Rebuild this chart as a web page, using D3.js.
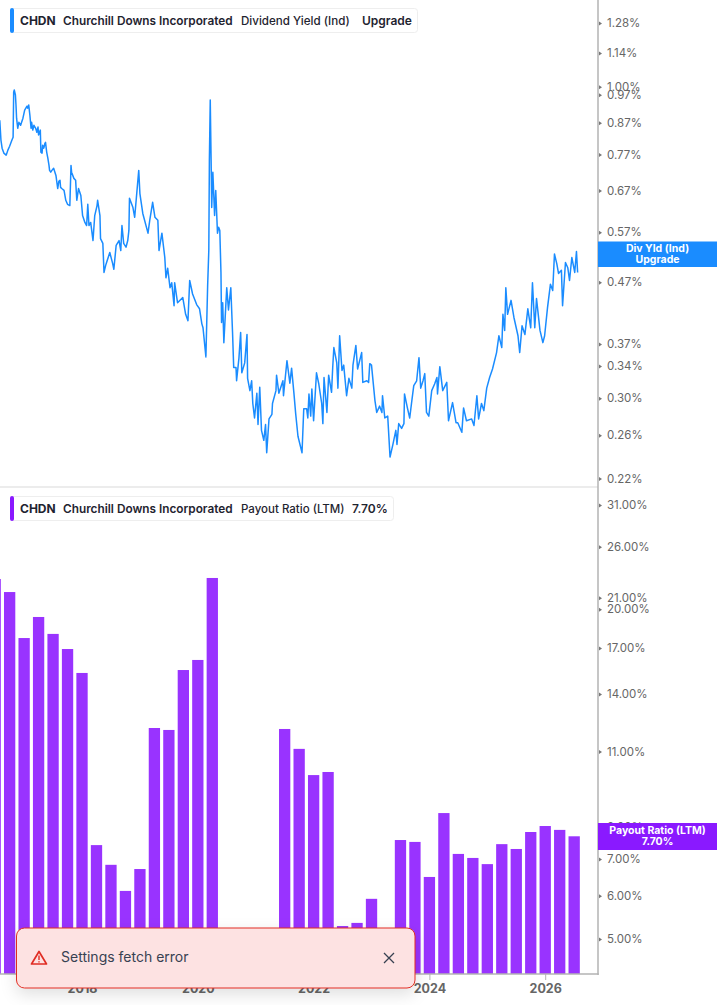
<!DOCTYPE html>
<html><head><meta charset="utf-8">
<script src="https://cdn.jsdelivr.net/npm/d3@7"></script>
<style>
html,body{margin:0;padding:0;background:#fff;overflow:hidden}
svg{display:block;font-family:Inter,"Noto Sans",sans-serif}
</style></head><body><div id="chart"></div>
<script>
// Dividend yield (%), x in decimal years
const yieldYears=[2016.58,2016.60,2016.62,2016.65,2016.69,2016.72,2016.75,2016.79,2016.81,2016.82,2016.83,2016.85,2016.86,2016.87,2016.89,2016.91,2016.94,2016.98,2017.01,2017.05,2017.06,2017.08,2017.10,2017.12,2017.13,2017.15,2017.17,2017.20,2017.22,2017.24,2017.25,2017.28,2017.29,2017.31,2017.32,2017.34,2017.36,2017.37,2017.39,2017.41,2017.43,2017.44,2017.46,2017.48,2017.51,2017.55,2017.58,2017.60,2017.62,2017.63,2017.65,2017.69,2017.72,2017.75,2017.79,2017.81,2017.82,2017.86,2017.89,2017.91,2017.94,2017.98,2018.01,2018.05,2018.08,2018.10,2018.12,2018.15,2018.19,2018.22,2018.26,2018.27,2018.31,2018.32,2018.36,2018.38,2018.41,2018.43,2018.48,2018.53,2018.55,2018.59,2018.64,2018.67,2018.69,2018.72,2018.76,2018.79,2018.81,2018.82,2018.88,2018.91,2018.98,2019.00,2019.05,2019.14,2019.17,2019.22,2019.26,2019.31,2019.33,2019.38,2019.43,2019.45,2019.48,2019.52,2019.55,2019.59,2019.60,2019.65,2019.74,2019.79,2019.83,2019.86,2019.91,2019.98,2020.03,2020.07,2020.09,2020.14,2020.17,2020.19,2020.20,2020.215,2020.23,2020.24,2020.26,2020.29,2020.31,2020.34,2020.36,2020.38,2020.40,2020.41,2020.43,2020.45,2020.48,2020.50,2020.53,2020.57,2020.60,2020.62,2020.66,2020.67,2020.71,2020.74,2020.76,2020.81,2020.85,2020.86,2020.90,2020.93,2020.95,2020.98,2021.02,2021.04,2021.07,2021.10,2021.14,2021.17,2021.19,2021.23,2021.28,2021.29,2021.35,2021.36,2021.40,2021.47,2021.48,2021.54,2021.59,2021.62,2021.66,2021.69,2021.73,2021.80,2021.83,2021.88,2021.90,2021.92,2021.95,2021.97,2022.00,2022.05,2022.09,2022.14,2022.16,2022.18,2022.23,2022.26,2022.31,2022.33,2022.35,2022.40,2022.42,2022.45,2022.49,2022.52,2022.57,2022.61,2022.66,2022.68,2022.73,2022.76,2022.83,2022.85,2022.92,2022.95,2022.97,2023.00,2023.06,2023.09,2023.14,2023.18,2023.19,2023.23,2023.28,2023.32,2023.37,2023.42,2023.44,2023.47,2023.52,2023.56,2023.57,2023.62,2023.66,2023.70,2023.73,2023.78,2023.82,2023.85,2023.89,2023.92,2023.95,2023.99,2024.04,2024.09,2024.13,2024.14,2024.18,2024.23,2024.30,2024.33,2024.40,2024.46,2024.49,2024.56,2024.59,2024.64,2024.73,2024.77,2024.82,2024.85,2024.90,2024.94,2024.99,2025.04,2025.09,2025.16,2025.20,2025.25,2025.27,2025.30,2025.32,2025.35,2025.41,2025.46,2025.53,2025.56,2025.60,2025.65,2025.70,2025.75,2025.78,2025.82,2025.85,2025.91,2025.96,2025.99,2026.04,2026.09,2026.13,2026.16,2026.20,2026.23,2026.28,2026.30,2026.35,2026.39,2026.42,2026.46,2026.51,2026.54,2026.56];
const yieldValues=[.879,.814,.789,.774,.768,.783,.795,.814,.823,.980,.988,.969,.932,.886,.852,.872,.862,.886,.914,.928,.921,.932,.896,.852,.872,.846,.862,.852,.839,.856,.830,.846,.777,.774,.798,.789,.804,.807,.777,.759,.738,.724,.719,.724,.730,.710,.675,.694,.697,.678,.675,.670,.645,.635,.632,.738,.719,.702,.697,.645,.675,.657,.608,.592,.585,.635,.585,.592,.552,.608,.632,.645,.608,.556,.546,.488,.502,.509,.527,.505,.494,.542,.552,.531,.585,.546,.538,.552,.574,.650,.627,.604,.724,.662,.613,.568,.597,.640,.604,.597,.531,.568,.517,.478,.496,.460,.469,.429,.469,.434,.443,.415,.405,.473,.449,.431,.424,.400,.394,.352,.464,.531,.753,.950,.753,.627,.719,.608,.670,.568,.581,.574,.488,.402,.434,.372,.423,.460,.422,.460,.387,.338,.338,.321,.350,.387,.331,.344,.384,.324,.309,.321,.294,.278,.306,.271,.313,.265,.255,.271,.243,.277,.282,.294,.309,.328,.306,.321,.303,.347,.318,.337,.306,.283,.259,.243,.288,.288,.278,.305,.280,.311,.275,.331,.317,.294,.272,.325,.284,.328,.307,.338,.365,.344,.312,.382,.334,.341,.303,.324,.312,.341,.368,.336,.358,.319,.321,.319,.343,.341,.297,.284,.291,.284,.303,.278,.280,.239,.251,.265,.251,.272,.267,.272,.305,.289,.278,.299,.315,.321,.351,.312,.321,.330,.284,.280,.309,.317,.325,.305,.339,.309,.319,.275,.295,.273,.273,.263,.289,.275,.277,.270,.303,.277,.294,.286,.312,.325,.336,.358,.382,.365,.415,.390,.460,.415,.438,.410,.382,.358,.397,.384,.424,.394,.469,.394,.441,.390,.372,.382,.426,.466,.455,.524,.505,.486,.492,.429,.507,.497,.473,.517,.488,.529,.488];
// Payout ratio (%), one bar per quarter; null = no reported value
const payoutQuarters=[2016.49,2016.74,2016.99,2017.24,2017.49,2017.74,2017.99,2018.24,2018.49,2018.74,2018.99,2019.24,2019.49,2019.74,2019.99,2020.24,2020.49,2020.74,2020.99,2021.24,2021.49,2021.74,2021.99,2022.24,2022.49,2022.74,2022.99,2023.24,2023.49,2023.74,2023.99,2024.24,2024.49,2024.74,2024.99,2025.24,2025.49,2025.74,2025.99,2026.24,2026.49];
const payoutValues=[22.71,21.50,17.72,19.36,18.03,16.92,15.30,7.42,6.83,6.12,6.71,12.14,12.04,15.49,16.16,22.81,null,null,null,null,12.09,11.12,9.96,10.09,5.28,5.35,5.92,null,7.58,7.52,6.49,8.49,7.15,7.03,6.85,7.45,7.30,7.84,8.04,7.91,7.70];
const yieldTicks=[1.28,1.14,1.00,.97,.87,.77,.67,.57,.47,.37,.34,.30,.26,.22];
const payoutTicks=[31,26,21,20,17,14,11,8,7,6,5];
const yearTicks=[2018,2020,2022,2024,2026];

const W=717,H=1005,axisX=598,bottomY=974,sepY=487;
const BLUE="#1a8cff",PURPLE="#8a19ff",BAR="#9933ff",GREY="#666";
const svg=d3.select("#chart").append("svg").attr("width",W).attr("height",H).attr("viewBox",[0,0,W,H]);
const defs=svg.append("defs");
const f=defs.append("filter").attr("id","shadow").attr("x","-10%").attr("y","-40%").attr("width","120%").attr("height","200%");
f.append("feDropShadow").attr("dx",0).attr("dy",6).attr("stdDeviation",8).attr("flood-color","#000").attr("flood-opacity",.12);
defs.append("clipPath").attr("id","plot").append("rect").attr("x",0).attr("y",0).attr("width",axisX).attr("height",bottomY);

const x=d3.scaleLinear().domain([2018,2026]).range([82,545.2]);
// value at a known pixel row fixes each log axis
const yTop=d3.scaleLog().domain([1.28,.22]).range([23,478.5]);
const yBot=d3.scaleLog().domain([31,5]).range([505,939]);
const plot=svg.append("g").attr("clip-path","url(#plot)");

// Bars
const barW=11.3;
plot.selectAll("rect.bar").data(payoutQuarters.map((q,i)=>({q,v:payoutValues[i]})).filter(d=>d.v!=null))
  .join("rect").attr("class","bar")
  .attr("x",d=>x(d.q)-barW/2+.6).attr("width",barW)
  .attr("y",d=>yBot(d.v)).attr("height",d=>bottomY-yBot(d.v))
  .attr("fill",BAR);

// Line
const line=d3.line().x(d=>x(d[0])).y(d=>yTop(d[1]));
plot.append("path").datum(yieldYears.map((t,i)=>[t,yieldValues[i]]))
  .attr("d",line).attr("fill","none").attr("stroke",BLUE).attr("stroke-width",1.5).attr("stroke-linejoin","round");

// Frame
svg.append("line").attr("x1",0).attr("x2",axisX).attr("y1",sepY).attr("y2",sepY).attr("stroke","#e6e6e6").attr("stroke-width",1.5);
svg.append("line").attr("x1",axisX).attr("x2",axisX).attr("y1",0).attr("y2",bottomY+1).attr("stroke","#b3b3b3").attr("stroke-width",1.5);
svg.append("line").attr("x1",0).attr("x2",axisX+.7).attr("y1",bottomY).attr("y2",bottomY).attr("stroke","#b3b3b3").attr("stroke-width",1.5);

// Axes
function rightAxis(scale,ticks,fmt){
  const g=svg.append("g").attr("transform",`translate(${axisX},0)`)
    .call(d3.axisRight(scale).tickValues(ticks).tickFormat(fmt).tickSize(0).tickPadding(9));
  g.select(".domain").remove();
  g.selectAll(".tick text").attr("fill",GREY).attr("font-size",11.5).attr("font-family","Inter,sans-serif");
  g.selectAll(".tick").append("path").attr("d","M1,-2L4,0L1,2Z").attr("fill","#777");
}
rightAxis(yTop,yieldTicks,d=>d.toFixed(2)+"%");
rightAxis(yBot,payoutTicks,d=>d.toFixed(2)+"%");
const xg=svg.append("g").attr("transform",`translate(0,${bottomY})`)
  .call(d3.axisBottom(x).tickValues(yearTicks).tickFormat(d3.format("d")).tickSize(6).tickPadding(4));
xg.select(".domain").remove();
xg.selectAll(".tick line").attr("stroke","#b3b3b3");
xg.selectAll(".tick text").attr("fill",GREY).attr("font-size",12.5).attr("font-weight",700).attr("font-family","Inter,sans-serif");

// Price tags
function tag(y0,h,color,l1,l2){
  const g=svg.append("g");
  g.append("rect").attr("x",axisX).attr("y",y0).attr("width",W-axisX).attr("height",h).attr("fill",color);
  g.selectAll("text").data([l1,l2]).join("text").attr("x",(axisX+W)/2).attr("y",(d,i)=>y0+10.5+i*11.3)
    .attr("text-anchor","middle").attr("fill","#fff").attr("font-size",10.5).attr("font-weight",700).text(d=>d);
}
tag(241.5,25.5,BLUE,"Div Yld (Ind)","Upgrade");
tag(823,27,PURPLE,"Payout Ratio (LTM)","7.70%");

// Legends
function legend(y0,w,color,parts){
  const g=svg.append("g");
  g.append("rect").attr("x",10.5).attr("y",y0+.5).attr("width",w).attr("height",24).attr("rx",3).attr("fill","#fff").attr("stroke","#eeeeee");
  g.append("rect").attr("x",10).attr("y",y0).attr("width",4).attr("height",25).attr("rx",2).attr("fill",color);
  g.selectAll("text").data(parts).join("text").attr("x",d=>d.x).attr("y",y0+17).attr("fill","#1f2430")
    .attr("font-size",d=>d.s).attr("font-weight",d=>d.w).text(d=>d.t);
}
legend(8,407,BLUE,[{x:20,t:"CHDN",w:700,s:12},{x:63,t:"Churchill Downs Incorporated",w:600,s:11.8},{x:241,t:"Dividend Yield (Ind)",w:450,s:11.6},{x:362,t:"Upgrade",w:600,s:12}]);
legend(496,383,PURPLE,[{x:20,t:"CHDN",w:700,s:12},{x:63,t:"Churchill Downs Incorporated",w:600,s:11.8},{x:241,t:"Payout Ratio (LTM)",w:450,s:11.5},{x:352,t:"7.70%",w:600,s:12}]);

// Toast
const t=svg.append("g");
t.append("rect").attr("x",16.5).attr("y",928).attr("width",398.5).attr("height",60).attr("rx",8)
  .attr("fill","#fde2e2").attr("stroke","#e02d24").attr("stroke-width",1).attr("filter","url(#shadow)");
t.append("path").attr("d","M39,951.5L46.5,964H31.5Z").attr("fill","none").attr("stroke","#e02d24").attr("stroke-width",1.7).attr("stroke-linejoin","round");
t.append("path").attr("d","M39,955.5V960M39,961.3V962.6").attr("stroke","#e02d24").attr("stroke-width",1.4);
t.append("text").attr("x",61).attr("y",962).attr("font-size",14).attr("fill","#374151").text("Settings fetch error");
t.append("path").attr("d","M384,953L394,963M394,953L384,963").attr("stroke","#374151").attr("stroke-width",1.3);
</script></body></html>
